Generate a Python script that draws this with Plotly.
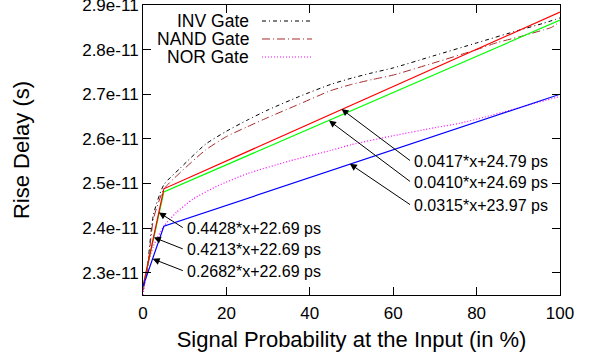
import plotly.graph_objects as go

# ---- data (delays in ps) ----
x_inv = [0, 1, 2.5, 5, 9, 15, 20, 25, 30, 37.5, 45, 50, 55, 60, 70, 80, 90, 96, 100]
inv_ps = [22.7, 23.1, 24.3, 24.97, 25.35, 25.88, 26.17, 26.42, 26.65, 26.95, 27.22, 27.36, 27.48, 27.59, 27.87, 28.15, 28.43, 28.59, 28.71]

x_nand = [0, 1, 2.5, 5, 9, 15, 20, 25, 30, 37.5, 45, 50, 55, 60, 70, 80, 85, 90, 93, 96, 98, 100]
nand_ps = [22.6, 23.0, 24.2, 24.87, 25.25, 25.75, 26.05, 26.27, 26.48, 26.78, 27.08, 27.22, 27.33, 27.43, 27.71, 28.0, 28.16, 28.28, 28.36, 28.44, 28.5, 28.63]

x_nor = [0, 1, 2.5, 5, 8, 12, 18, 25, 35, 45, 50, 60, 70, 76, 82, 88, 94, 100]
nor_ps = [22.5, 23.1, 23.6, 24.04, 24.35, 24.65, 24.95, 25.22, 25.5, 25.74, 25.87, 26.07, 26.25, 26.35, 26.49, 26.64, 26.8, 26.95]

x_fit = [0, 5, 100]
fit_red_ps = [22.69, 24.88, 28.84]
fit_green_ps = [22.69, 24.81, 28.66]
fit_blue_ps = [22.69, 24.04, 27.00]

legend_names = ["INV Gate", "NAND Gate", "NOR Gate"]
fit_labels_right = ["0.0417*x+24.79 ps", "0.0410*x+24.69 ps", "0.0315*x+23.97 ps"]
fit_labels_left = ["0.4428*x+22.69 ps", "0.4213*x+22.69 ps", "0.2682*x+22.69 ps"]

x_ticks = [0, 20, 40, 60, 80, 100]
y_ticks_ps = [23, 24, 25, 26, 27, 28, 29]

PS = 1e-12
def s(v):
    return [a * PS for a in v]

FONT = "Liberation Sans, Arial, Helvetica, sans-serif"
C_INV = "#000000"
C_NAND = "#a52a2a"
C_NOR = "#ff00ff"
D_INV = "4px,3px,1px,3px"
D_NAND = "8px,3px,1px,3px"
D_NOR = "1px,2px"

fig = go.Figure()
fig.add_trace(go.Scatter(x=x_inv, y=s(inv_ps), mode="lines", name=legend_names[0],
                         line=dict(color=C_INV, width=1, dash=D_INV, shape="spline", smoothing=0.6)))
fig.add_trace(go.Scatter(x=x_nand, y=s(nand_ps), mode="lines", name=legend_names[1],
                         line=dict(color=C_NAND, width=1, dash=D_NAND, shape="spline", smoothing=0.6)))
fig.add_trace(go.Scatter(x=x_nor, y=s(nor_ps), mode="lines", name=legend_names[2],
                         line=dict(color=C_NOR, width=1.2, dash=D_NOR, shape="spline", smoothing=0.6)))
fig.add_trace(go.Scatter(x=x_fit, y=s(fit_green_ps), mode="lines",
                         line=dict(color="#00ff00", width=1.2)))
fig.add_trace(go.Scatter(x=x_fit, y=s(fit_red_ps), mode="lines",
                         line=dict(color="#ff0000", width=1.2)))
fig.add_trace(go.Scatter(x=x_fit, y=s(fit_blue_ps), mode="lines",
                         line=dict(color="#0000ff", width=1.2)))

annotations = []
shapes = []

# legend (gnuplot style: text right-aligned, sample to the right)
leg_y = [0.9448, 0.8828, 0.8207]
leg_styles = [(C_INV, D_INV), (C_NAND, D_NAND), (C_NOR, D_NOR)]
for name, yy, (c, d) in zip(legend_names, leg_y, leg_styles):
    annotations.append(dict(x=0.2566, y=yy, xref="paper", yref="paper", text=name,
                            showarrow=False, xanchor="right", yanchor="middle", borderpad=0,
                            font=dict(size=17.5, color="black", family=FONT)))
    shapes.append(dict(type="line", xref="paper", yref="paper", x0=0.2854, x1=0.4053,
                       y0=yy, y1=yy, line=dict(color=c, width=1, dash=d)))

# arrows + labels, right group
right_heads = [(47.6, 26.667), (44.6, 26.41), (49.6, 25.44)]
right_tail_y = [25.488, 25.02, 24.503]
for lab, (hx, hy), ty in zip(fit_labels_right, right_heads, right_tail_y):
    annotations.append(dict(x=hx, y=hy * PS, ax=64.4, ay=ty * PS, xref="x", yref="y",
                            axref="x", ayref="y", text="", showarrow=True,
                            arrowhead=2, arrowsize=1.4, arrowwidth=1, arrowcolor="black"))
    annotations.append(dict(x=64.6, y=ty * PS, xref="x", yref="y", text=lab,
                            showarrow=False, xanchor="left", yanchor="middle",
                            font=dict(size=16, color="black", family=FONT)))

# arrows + labels, left group
left_heads = [(3.8, 24.35), (2.6, 23.79), (2.3, 23.31)]
left_tail_y = [23.99, 23.52, 23.034]
for lab, (hx, hy), ty in zip(fit_labels_left, left_heads, left_tail_y):
    annotations.append(dict(x=hx, y=hy * PS, ax=9.9, ay=ty * PS, xref="x", yref="y",
                            axref="x", ayref="y", text="", showarrow=True,
                            arrowhead=2, arrowsize=1.4, arrowwidth=1, arrowcolor="black"))
    annotations.append(dict(x=10.1, y=ty * PS, xref="x", yref="y", text=lab,
                            showarrow=False, xanchor="left", yanchor="middle",
                            font=dict(size=16, color="black", family=FONT)))

fig.update_layout(
    width=591, height=358,
    margin=dict(l=143, r=31, t=5, b=63, autoexpand=False),
    paper_bgcolor="white", plot_bgcolor="white",
    showlegend=False,
    font=dict(family=FONT, color="black", size=17),
    annotations=annotations, shapes=shapes,
    xaxis=dict(range=[0, 100], tickvals=x_ticks, ticktext=[str(v) for v in x_ticks],
               ticks="inside", ticklen=8, tickcolor="black", showline=True, linecolor="black",
               linewidth=1, mirror="allticks", showgrid=False, zeroline=False, automargin=False,
               ticklabelstandoff=3,
               tickfont=dict(size=17), title=dict(text="Signal Probability at the Input (in %)",
                                                  font=dict(size=22), standoff=9)),
    yaxis=dict(range=[22.5 * PS, 29.0001 * PS], tickvals=s(y_ticks_ps),
               ticktext=["%.1fe-11" % (v / 10) for v in y_ticks_ps],
               ticks="inside", ticklen=8, tickcolor="black", showline=True, linecolor="black",
               linewidth=1, mirror="allticks", showgrid=False, zeroline=False, automargin=False,
               ticklabeloverflow="allow",
               tickfont=dict(size=17), title=dict(text="Rise Delay (s)", font=dict(size=22),
                                                  standoff=46)),
)

fig.write_html("out.html", config={"displayModeBar": False},
               post_script="document.body.style.margin='0';document.body.style.overflow='hidden';")
